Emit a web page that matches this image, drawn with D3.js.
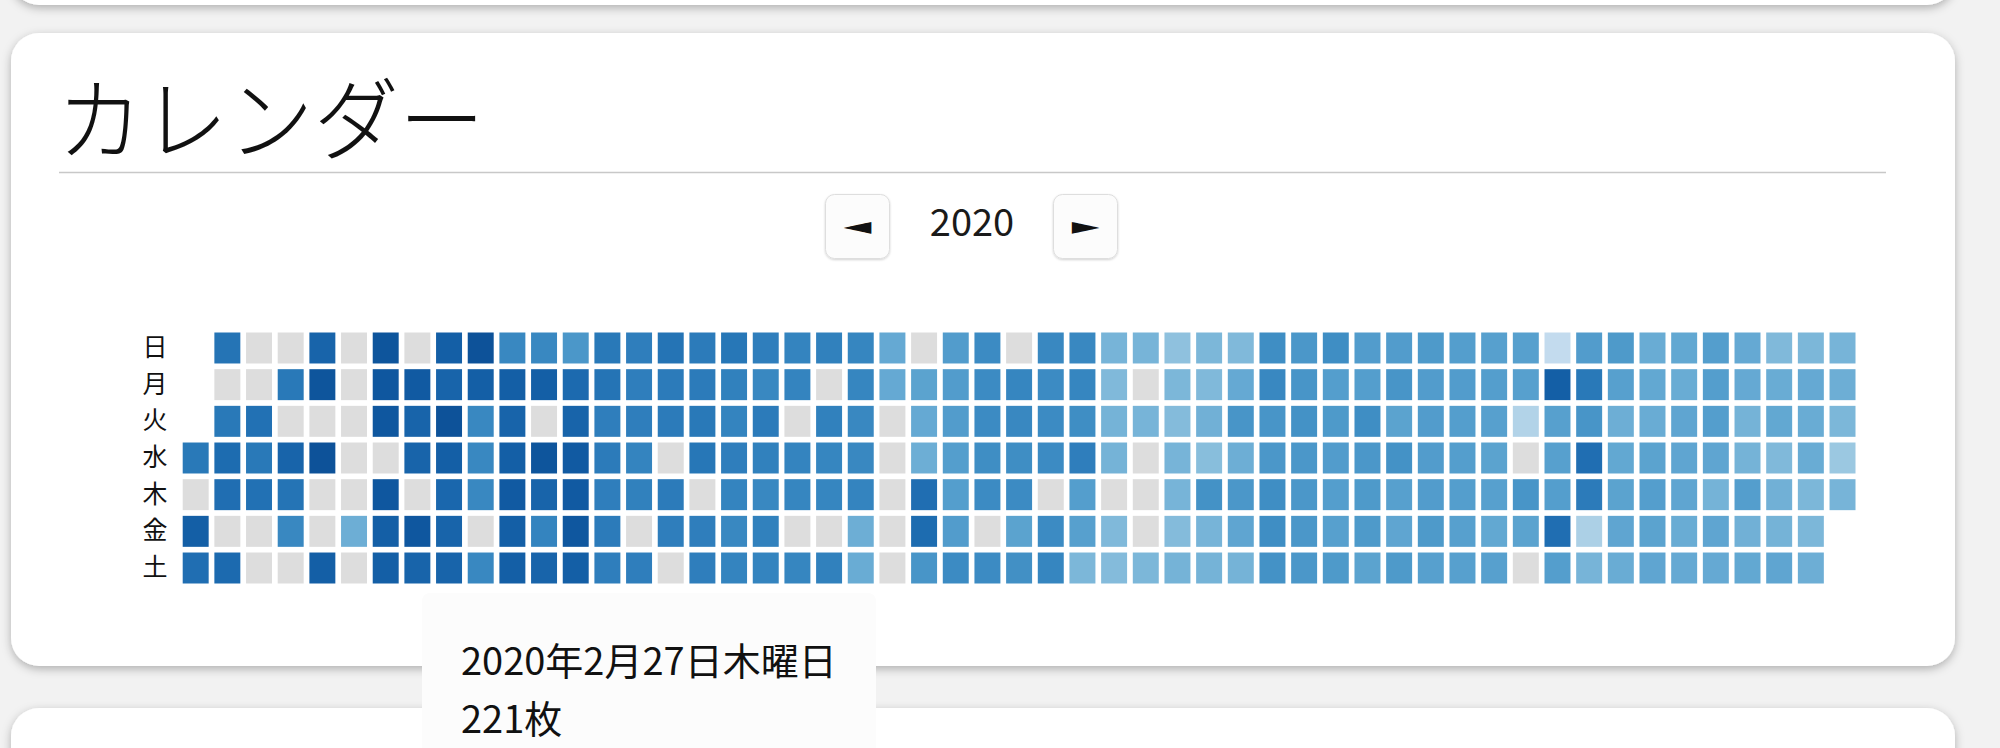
<!DOCTYPE html>
<html><head><meta charset="utf-8">
<script src="https://cdn.jsdelivr.net/npm/d3@7"></script>
<style>
html,body{margin:0;padding:0;background:#f2f2f2;overflow:hidden}
svg{display:block}
text{font-family:"Noto Sans CJK JP","Noto Sans",sans-serif}
</style></head><body>
<svg id="c" width="2000" height="748"></svg>
<script>
// ---- data ----
const year = 2020;
const title = "カレンダー";
const dayLabels = ["日","月","火","水","木","金","土"];
const unit = "枚";
const jan = [202,0,230,213,207,0,202,216,213,0,218,0,0,210,202,210,0,0,0,202,0,224,207,185,0,224,241,0,244,0,0];
const feb = [230,0,0,0,0,0,140,0,241,238,238,0,238,230,230,0,235,224,224,0,238,224,230,224,244,230,221,224,224];
const mar = [244,230,185,185,185,0,185,185,230,224,230,235,230,230,185,230,0,241,224,190,224,168,218,224,235,235,238,230,202,207,196];
const apr = [199,196,199,196,196,196,196,190,193,0,196,207,199,199,0,199,196,0,199,199,202,204,0,196,196,204,193,190,196,190];
const may = [185,190,196,185,199,193,185,193,190,190,190,0,190,188,0,188,193,0,193,188,188,0,193,188,188,185,185,190,140,143,146];
const jun = [146,0,0,0,0,0,0,154,146,140,213,216,171,162,162,162,160,160,162,182,182,182,182,179,182,0,182,0,188,185];
const jul = [179,182,154,176,185,182,182,182,0,182,188,185,188,179,196,160,157,129,132,126,134,134,0,126,123,132,0,132,0,0,0];
const aug = [129,115,129,123,132,132,123,134,129,126,137,120,174,132,134,126,146,171,140,168,151,134,179,185,171,168,179,179,174,168,171];
const sep = [174,168,168,168,168,179,160,165,162,160,157,165,162,160,179,168,165,165,154,162,171,154,174,157,151,165,165,162,162,162];
const oct = [162,165,157,160,162,160,160,160,157,157,157,160,157,154,157,148,157,157,157,87,0,171,154,0,70,230,157,157,160,213,160];
const nov = [162,202,171,213,199,92,132,165,157,140,148,154,151,143,143,148,143,154,160,154,151,148,143,151,151,151,143,146,160,160];
const dec = [160,151,134,151,146,146,146,134,134,160,137,148,126,143,148,126,137,134,151,129,146,143,143,129,129,140,132,140,129,106,132];
const monthCounts = [jan,feb,mar,apr,may,jun,jul,aug,sep,oct,nov,dec];
const colorDomain = [0, 280];
const hovered = {month: 2, day: 27};

// ---- drawing ----
const svg = d3.select("#c");
const defs = svg.append("defs");
const f = defs.append("filter").attr("id","sh").attr("x","-5%").attr("y","-10%").attr("width","110%").attr("height","130%");
f.append("feDropShadow").attr("dx",0).attr("dy",3).attr("stdDeviation",5).attr("flood-color","#000").attr("flood-opacity",0.28);
const f2 = defs.append("filter").attr("id","bsh").attr("x","-20%").attr("y","-20%").attr("width","140%").attr("height","150%");
f2.append("feDropShadow").attr("dx",0).attr("dy",1).attr("stdDeviation",1).attr("flood-color","#000").attr("flood-opacity",0.18);

// cards
svg.append("rect").attr("x",11).attr("y",-300).attr("width",1944).attr("height",305).attr("rx",28).attr("fill","#fff").attr("filter","url(#sh)");
svg.append("rect").attr("x",11).attr("y",33).attr("width",1944).attr("height",633).attr("rx",28).attr("fill","#fff").attr("filter","url(#sh)");
svg.append("rect").attr("x",11).attr("y",708).attr("width",1944).attr("height",400).attr("rx",28).attr("fill","#fff").attr("filter","url(#sh)");

function sText(x, y, str, size, opts={}) {
  const sx = opts.sx || 1;
  const t = svg.append("text")
    .attr("transform", `translate(${x},${y}) scale(${sx},1)`)
    .attr("font-size", size).attr("fill", opts.fill || "#111")
    .text(str);
  if (opts.anchor) t.attr("text-anchor", opts.anchor);
  if (opts.weight) t.attr("font-weight", opts.weight);
  if (opts.baseline) t.attr("dominant-baseline", opts.baseline);
  return t;
}

// title + rule
sText(57, 153, title, 90, {weight: 300, sx: 0.95});
svg.append("line").attr("x1",59).attr("x2",1886).attr("y1",172.5).attr("y2",172.5).attr("stroke","#c8c8c8").attr("stroke-width",1.5);

// year navigation
[[825.5,"◄"],[1053.5,"►"]].forEach(([bx,g]) => {
  svg.append("rect").attr("x",bx).attr("y",194.5).attr("width",64).attr("height",64).attr("rx",9)
    .attr("fill","#fcfcfc").attr("stroke","#dedede").attr("filter","url(#bsh)");
  svg.append("text").attr("transform",`translate(${bx+32},226) scale(1.2,0.78)`)
    .attr("text-anchor","middle").attr("dominant-baseline","central")
    .attr("font-size",30).attr("fill","#111").style("font-family","DejaVu Sans").text(g);
});
sText(972, 236, String(year), 38, {anchor:"middle", fill:"#1a1a1a"});

// calendar grid
const days = d3.timeDays(new Date(year,0,1), new Date(year+1,0,1));
const valueOf = d => monthCounts[d.getMonth()][d.getDate()-1];
const x = d3.scaleBand().domain(d3.range(53)).range([182.7, 1855.5]).paddingInner(0.18);
const y = d3.scaleBand().domain(d3.range(7)).range([332.5, 583.5]).paddingInner(0.155);
const color = d3.scaleSequential(d3.interpolateBlues).domain(colorDomain);

svg.append("g").selectAll("rect").data(days).join("rect")
  .attr("x", d => x(d3.timeWeek.count(d3.timeYear(d), d)))
  .attr("y", d => y(d.getDay()))
  .attr("width", x.bandwidth()).attr("height", y.bandwidth())
  .attr("fill", d => valueOf(d) > 0 ? color(valueOf(d)) : "#dddddd");

// weekday labels
svg.append("g").selectAll("text").data(dayLabels).join("text")
  .attr("font-size", 25).attr("fill", "#111").attr("text-anchor", "middle")
  .attr("x", 155)
  .attr("y", (d,i) => y(i) + y.bandwidth()/2 + 8)
  .text(d => d);

// tooltip
const hd = new Date(year, hovered.month-1, hovered.day);
svg.append("rect").attr("x",422).attr("y",593).attr("width",454).attr("height",220).attr("rx",8).attr("fill","#fcfcfc");
sText(461, 675, `${year}年${hd.getMonth()+1}月${hd.getDate()}日${dayLabels[hd.getDay()]}曜日`, 38, {fill:"#111"});
sText(461, 733, `${valueOf(hd)}${unit}`, 38, {fill:"#111"});
</script>
</body></html>
